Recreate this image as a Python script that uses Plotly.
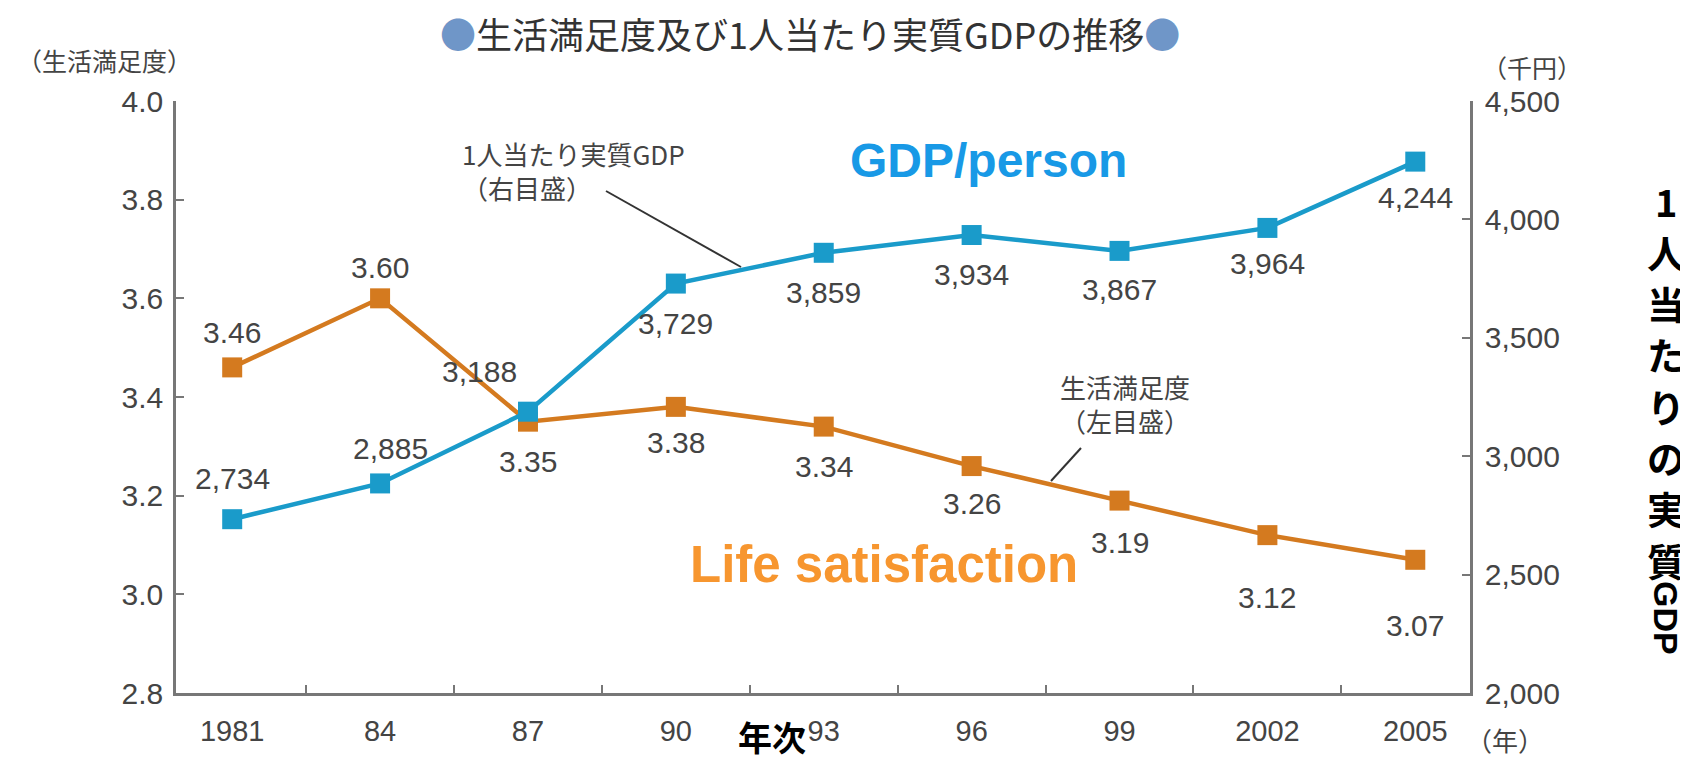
import plotly.graph_objects as go

# データ
years = ["1981", "84", "87", "90", "93", "96", "99", "2002", "2005"]
life_sat = [3.46, 3.60, 3.35, 3.38, 3.34, 3.26, 3.19, 3.12, 3.07]
gdp = [2734, 2885, 3188, 3729, 3859, 3934, 3867, 3964, 4244]
life_text = ["3.46", "3.60", "3.35", "3.38", "3.34", "3.26", "3.19", "3.12", "3.07"]
gdp_text = [f"{v:,}" for v in gdp]

# ラベルのずれ (px)
life_dy = [35, 31, -40, -36, -40, -37, -42, -62, -66]
life_dx = [0, 0, 0, 0, 0, 0, 0, 0, 0]
gdp_dy = [41, 35, 40, -40, -40, -39, -39, -36, -36]
gdp_dx = [0, 10, -48, 0, 0, 0, 0, 0, 0]

W, H = 1688, 763
L, R, T, B = 168, 1462, 93, 685

def px(x, y):
    return (x - L) / (R - L), (B - y) / (B - T)

ORANGE = "#d47a1f"
BLUE = "#1a9bca"
GRAY = "#444444"
AXIS = "#777777"
NUM_FONT = "Liberation Sans, Arial, sans-serif"
JP_FONT = "Noto Sans CJK JP"

xs = list(range(len(years)))

fig = go.Figure()
fig.add_trace(go.Scatter(
    x=xs, y=life_sat, mode="lines+markers", yaxis="y",
    line=dict(color=ORANGE, width=4.5),
    marker=dict(symbol="square", size=20, color=ORANGE),
    showlegend=False,
))
fig.add_trace(go.Scatter(
    x=xs, y=gdp, mode="lines+markers", yaxis="y2",
    line=dict(color=BLUE, width=4.5),
    marker=dict(symbol="square", size=20, color=BLUE),
    showlegend=False,
))

ann = []
for i in xs:
    ann.append(dict(x=i, y=life_sat[i], xref="x", yref="y", text=life_text[i],
                    showarrow=False, yshift=life_dy[i], xshift=life_dx[i],
                    font=dict(size=30, color=GRAY, family=NUM_FONT)))
    ann.append(dict(x=i, y=gdp[i], xref="x", yref="y2", text=gdp_text[i],
                    showarrow=False, yshift=gdp_dy[i], xshift=gdp_dx[i],
                    font=dict(size=30, color=GRAY, family=NUM_FONT)))

def add_text(x, y, text, size, color, family=JP_FONT, xanchor="center", yanchor="middle",
             angle=0, align="center"):
    px_, py_ = px(x, y)
    ann.append(dict(x=px_, y=py_, xref="paper", yref="paper", text=text, showarrow=False,
                    xanchor=xanchor, yanchor=yanchor, textangle=angle, align=align,
                    font=dict(size=size, color=color, family=family)))

# タイトル
add_text(802, 25, '<span style="color:#6f96c8">●</span>生活満足度及び1人当たり実質GDPの推移<span style="color:#6f96c8">●</span>',
         36, "#333333")
add_text(96, 52, "（生活満足度）", 25, GRAY)
add_text(1524, 59, "（千円）", 25, GRAY)
add_text(1497, 731, "（年）", 26, GRAY)
add_text(764, 728, "<b>年次</b>", 34, "#000000")

# 右側の縦書き
for k, ch in enumerate("1人当たりの実質"):
    add_text(1658, 192 + k * 51.3, f"<b>{ch}</b>", 38, "#000000")
add_text(1658, 610, "<b>GDP</b>", 34, "#000000", family="Liberation Sans, Arial", angle=90)

# 系列名
add_text(980, 152, "<b>GDP/person</b>", 48, "#1899e6", family="Liberation Sans, Arial")
add_text(876, 556, "<b>Life satisfaction</b>", 51, "#f7962f", family="Liberation Sans, Arial")

# 注記
add_text(452, 163, "1人当たり実質GDP<br>（右目盛）", 26, GRAY, xanchor="left", align="left")
add_text(1050, 395, "生活満足度<br>（左目盛）", 26, GRAY, xanchor="left", align="left")

shapes = []
for (x0, y0, x1, y1) in [(598, 183, 733, 259), (1073, 440, 1043, 473)]:
    a, b = px(x0, y0)
    c, d = px(x1, y1)
    shapes.append(dict(type="line", xref="paper", yref="paper", x0=a, y0=b, x1=c, y1=d,
                       line=dict(color="#333333", width=2)))

fig.update_layout(
    width=W, height=H,
    margin=dict(l=L, r=W - R, t=T, b=H - B),
    paper_bgcolor="white", plot_bgcolor="white",
    font=dict(family=NUM_FONT, color=GRAY),
    annotations=ann, shapes=shapes,
    xaxis=dict(
        range=[-0.38, 8.37], tickmode="array", tickvals=xs, ticktext=years,
        ticks="", showgrid=False, zeroline=False, showline=True, linecolor=AXIS, linewidth=2.5,
        tickfont=dict(size=29, color=GRAY), ticklabelstandoff=10,
        minor=dict(tickmode="array", tickvals=[i + 0.5 for i in xs[:-1]], ticks="inside",
                   ticklen=8, tickcolor=AXIS, tickwidth=1.5, showgrid=False),
    ),
    yaxis=dict(
        range=[2.8, 4.0], tickmode="array", tickvals=[2.8, 3.0, 3.2, 3.4, 3.6, 3.8, 4.0],
        ticktext=["2.8", "3.0", "3.2", "3.4", "3.6", "3.8", "4.0"],
        ticks="inside", ticklen=8, tickcolor=AXIS, tickwidth=1.5,
        showgrid=False, zeroline=False, showline=True, linecolor=AXIS, linewidth=2.5,
        tickfont=dict(size=30, color=GRAY), ticklabelstandoff=4,
    ),
    yaxis2=dict(
        range=[2000, 4500], overlaying="y", side="right", tickmode="array",
        tickvals=[2000, 2500, 3000, 3500, 4000, 4500], tickformat=",",
        ticks="inside", ticklen=8, tickcolor=AXIS, tickwidth=1.5,
        showgrid=False, zeroline=False, showline=True, linecolor=AXIS, linewidth=2.5,
        tickfont=dict(size=30, color=GRAY), ticklabelstandoff=6,
    ),
)

fig.write_html("out.html")
